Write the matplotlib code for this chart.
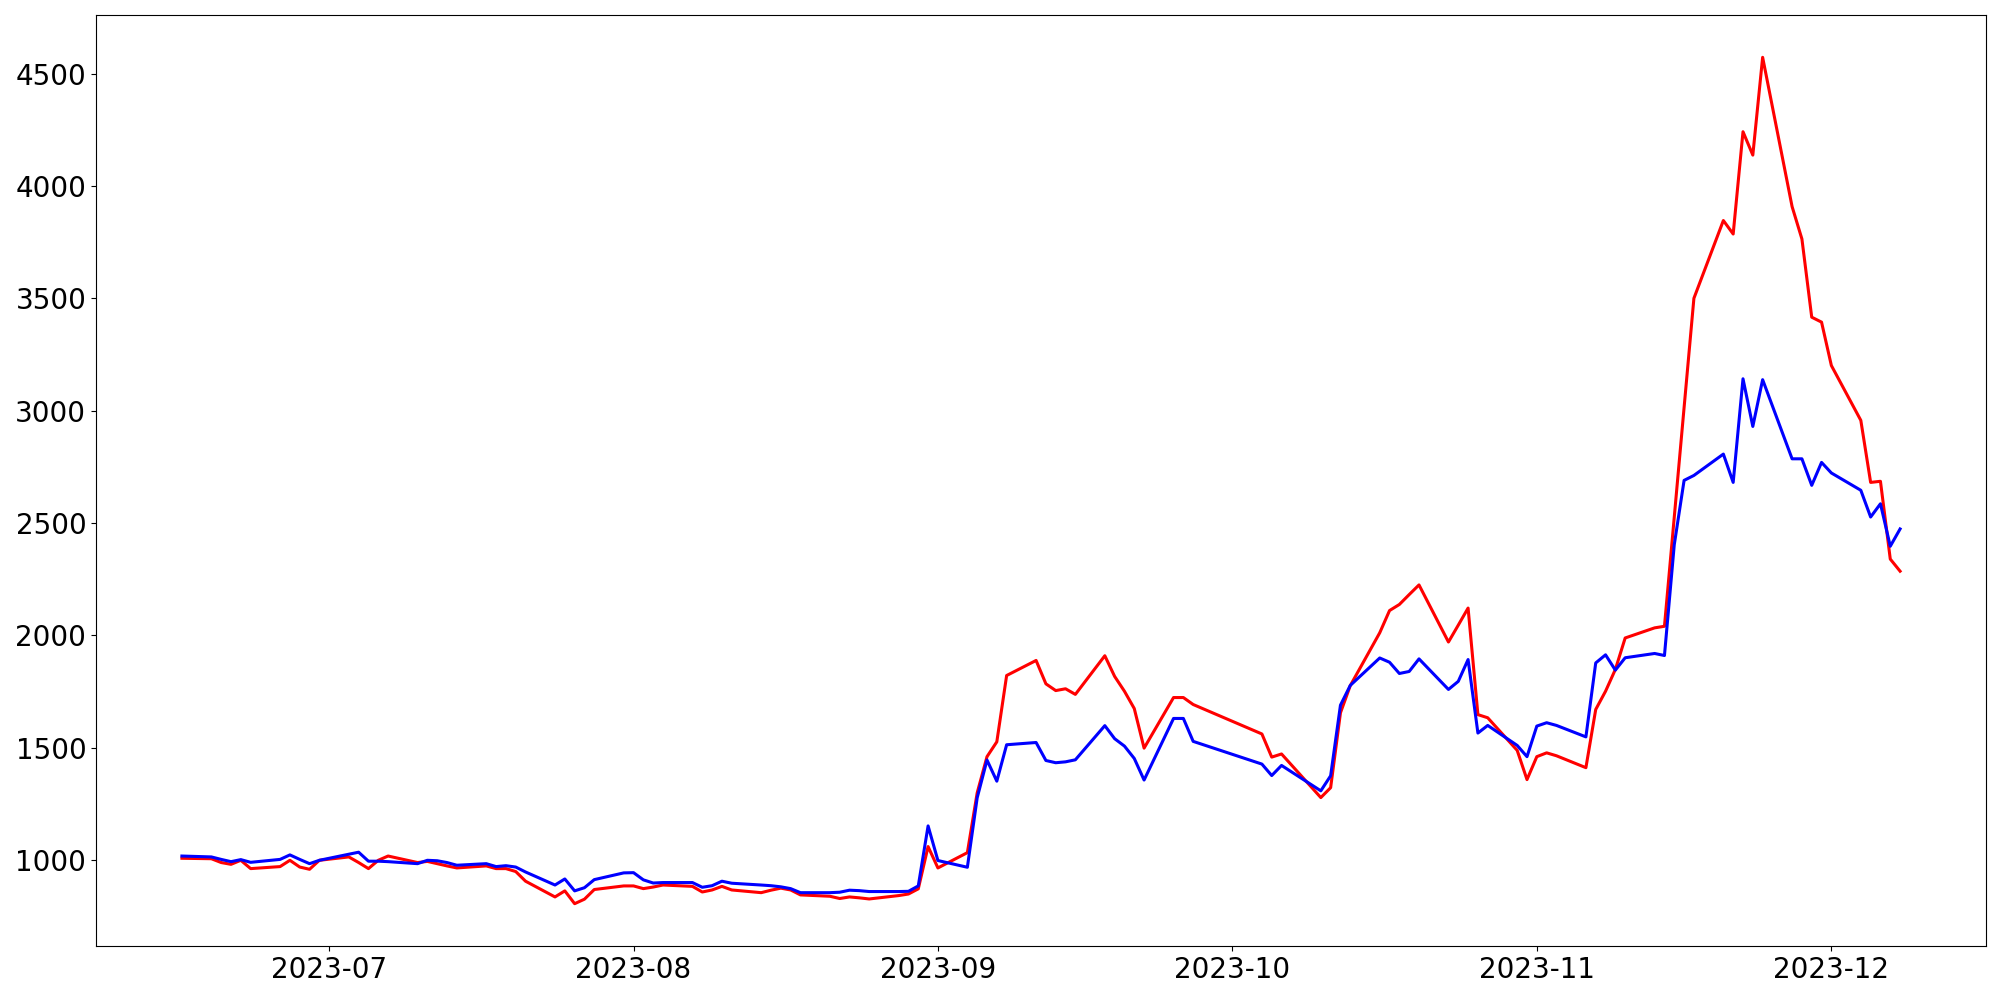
import matplotlib
matplotlib.use("Agg")
import matplotlib.pyplot as plt
import pandas as pd

dates = [
    "2023-06-16", "2023-06-19", "2023-06-20", "2023-06-21", "2023-06-22", "2023-06-23",
    "2023-06-26", "2023-06-27", "2023-06-28", "2023-06-29", "2023-06-30",
    "2023-07-03", "2023-07-04", "2023-07-05", "2023-07-06", "2023-07-07",
    "2023-07-10", "2023-07-11", "2023-07-12", "2023-07-13", "2023-07-14",
    "2023-07-17", "2023-07-18", "2023-07-19", "2023-07-20", "2023-07-21",
    "2023-07-24", "2023-07-25", "2023-07-26", "2023-07-27", "2023-07-28",
    "2023-07-31", "2023-08-01", "2023-08-02", "2023-08-03", "2023-08-04",
    "2023-08-07", "2023-08-08", "2023-08-09", "2023-08-10", "2023-08-11",
    "2023-08-14", "2023-08-15", "2023-08-16", "2023-08-17", "2023-08-18",
    "2023-08-21", "2023-08-22", "2023-08-23", "2023-08-24", "2023-08-25",
    "2023-08-28", "2023-08-29", "2023-08-30", "2023-08-31", "2023-09-01",
    "2023-09-04", "2023-09-05", "2023-09-06", "2023-09-07", "2023-09-08",
    "2023-09-11", "2023-09-12", "2023-09-13", "2023-09-14", "2023-09-15",
    "2023-09-18", "2023-09-19", "2023-09-20", "2023-09-21", "2023-09-22",
    "2023-09-25", "2023-09-26", "2023-09-27",
    "2023-10-04", "2023-10-05", "2023-10-06",
    "2023-10-10", "2023-10-11", "2023-10-12", "2023-10-13",
    "2023-10-16", "2023-10-17", "2023-10-18", "2023-10-19", "2023-10-20",
    "2023-10-23", "2023-10-24", "2023-10-25", "2023-10-26", "2023-10-27",
    "2023-10-30", "2023-10-31", "2023-11-01", "2023-11-02", "2023-11-03",
    "2023-11-06", "2023-11-07", "2023-11-08", "2023-11-09", "2023-11-10",
    "2023-11-13", "2023-11-14", "2023-11-15", "2023-11-16", "2023-11-17",
    "2023-11-20", "2023-11-21", "2023-11-22", "2023-11-23", "2023-11-24",
    "2023-11-27", "2023-11-28", "2023-11-29", "2023-11-30", "2023-12-01",
    "2023-12-04", "2023-12-05", "2023-12-06", "2023-12-07", "2023-12-08",
]

red_values = [
    1009, 1007, 990, 982, 1000, 963,
    972, 1000, 970, 960, 1000,
    1015, 990, 963, 1000, 1019,
    990, 995, 985, 975, 966,
    975, 963, 963, 950, 907,
    837, 864, 807, 827, 870,
    886, 886, 874, 881, 890,
    884, 859, 868, 884, 868,
    856, 867, 876, 868, 846,
    840, 830, 837, 833, 828,
    843, 850, 873, 1061, 966,
    1034, 1300, 1461, 1527, 1822,
    1889, 1785, 1755, 1763, 1738,
    1910, 1818, 1752, 1675, 1499,
    1724, 1724, 1693,
    1562, 1459, 1473,
    1279, 1323, 1656, 1777,
    2012, 2111, 2138, 2182, 2225,
    1971, 2046, 2122, 1648, 1634,
    1489, 1359, 1461, 1478, 1465,
    1412, 1671, 1752, 1849, 1989,
    2034, 2041, 2527, 3014, 3500,
    3846, 3786, 4241, 4137, 4572,
    3908, 3764, 3416, 3394, 3201,
    2957, 2681, 2686, 2340, 2286,
]

blue_values = [
    1019, 1015, 1004, 994, 1003, 991,
    1004, 1024, 1004, 985, 1000,
    1027, 1036, 996, 996, 994,
    985, 1000, 998, 990, 978,
    985, 972, 976, 970, 948,
    890, 917, 864, 878, 914,
    944, 945, 913, 899, 901,
    901, 880, 887, 907, 898,
    890, 887, 882, 874, 856,
    856, 858, 867, 865, 861,
    861, 862, 886, 1153, 999,
    969, 1278, 1446, 1352, 1514,
    1524, 1444, 1434, 1438, 1447,
    1599, 1541, 1508, 1453, 1357,
    1631, 1631, 1529,
    1428, 1377, 1422,
    1309, 1376, 1690, 1778,
    1900, 1881, 1831, 1840, 1896,
    1760, 1796, 1893, 1566, 1600,
    1511, 1461, 1597, 1612, 1600,
    1549, 1878, 1914, 1846, 1901,
    1920, 1911, 2404, 2690, 2712,
    2807, 2681, 3142, 2930, 3138,
    2786, 2786, 2668, 2770, 2723,
    2646, 2527, 2586, 2397, 2474,
]

x = pd.to_datetime(dates)

fig = plt.figure(figsize=(20, 10), dpi=100)
ax = fig.add_axes([0.048, 0.054, 0.945, 0.931])
ax.plot(x, red_values, color="red", linewidth=2.2)
ax.plot(x, blue_values, color="blue", linewidth=2.2)
ax.tick_params(axis="both", labelsize=20)
fig.savefig("out.png", dpi=100)
